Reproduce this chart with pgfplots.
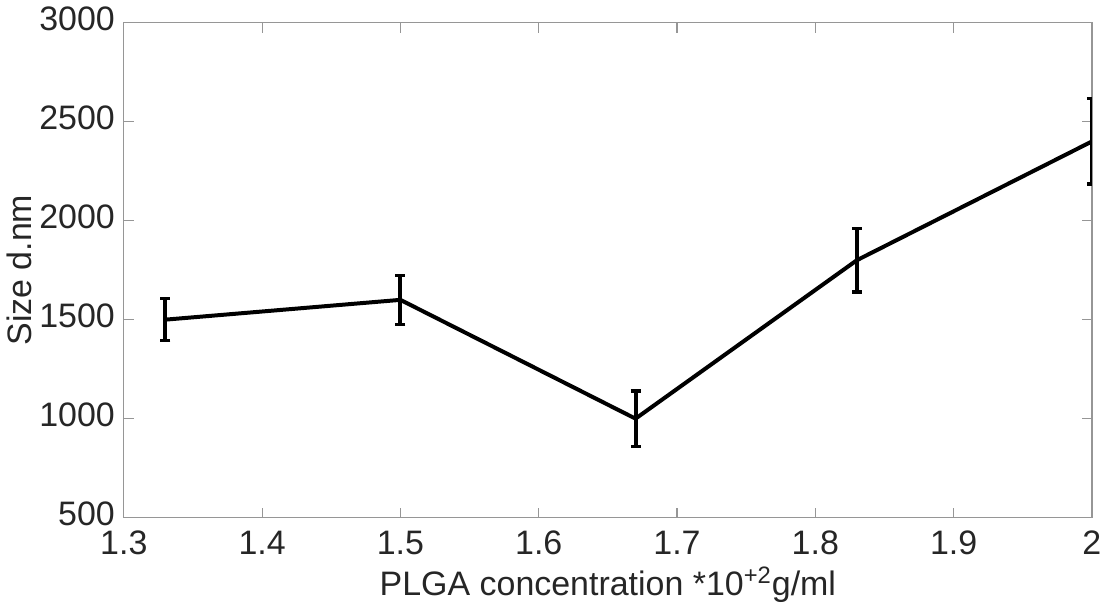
\documentclass[border=0pt]{standalone}
\usepackage{fontspec}
\setmainfont{Liberation Sans}
\usepackage{pgfplots}
\pgfplotsset{compat=1.18}
\definecolor{axgray}{RGB}{150,150,150}
\definecolor{txt}{RGB}{38,38,38}
\begin{document}
\begin{tikzpicture}
\begin{axis}[
  width=485pt, height=248pt, scale only axis,
  xmin=1.3, xmax=2, ymin=500, ymax=3000,
  xtick={1.3,1.4,1.5,1.6,1.7,1.8,1.9,2},
  xticklabels={1.3,1.4,1.5,1.6,1.7,1.8,1.9,2},
  ytick={500,1000,1500,2000,2500,3000},
  /pgf/number format/assume math mode=true,
  /pgf/number format/1000 sep={},
  tick label style={font=\fontsize{17}{20}\selectfont, text=txt},
  label style={font=\fontsize{17}{20}\selectfont, text=txt},
  axis line style={axgray, line width=0.6pt},
  tick style={axgray, line width=0.6pt},
  tick align=inside,
  major tick length=5pt,
  xlabel={PLGA concentration *10\textsuperscript{+2}g/ml},
  ylabel={Size d.nm},
  xticklabel style={yshift=-3pt},
  yticklabel style={xshift=-1pt, yshift=2pt},
  xlabel style={yshift=1pt},
  ylabel style={yshift=-3pt},
]
\addplot[black, line width=2pt,
  error bars/.cd, y dir=both, y explicit,
  error bar style={line width=2pt},
  error mark options={rotate=90, mark size=2.5pt, line width=1.6pt}]
  coordinates {
  (1.33,1500) +- (0,105)
  (1.5,1600) +- (0,125)
  (1.67,1000) +- (0,140)
  (1.83,1800) +- (0,160)
  (2.0,2400) +- (0,215)
};
\end{axis}
\end{tikzpicture}
\end{document}
